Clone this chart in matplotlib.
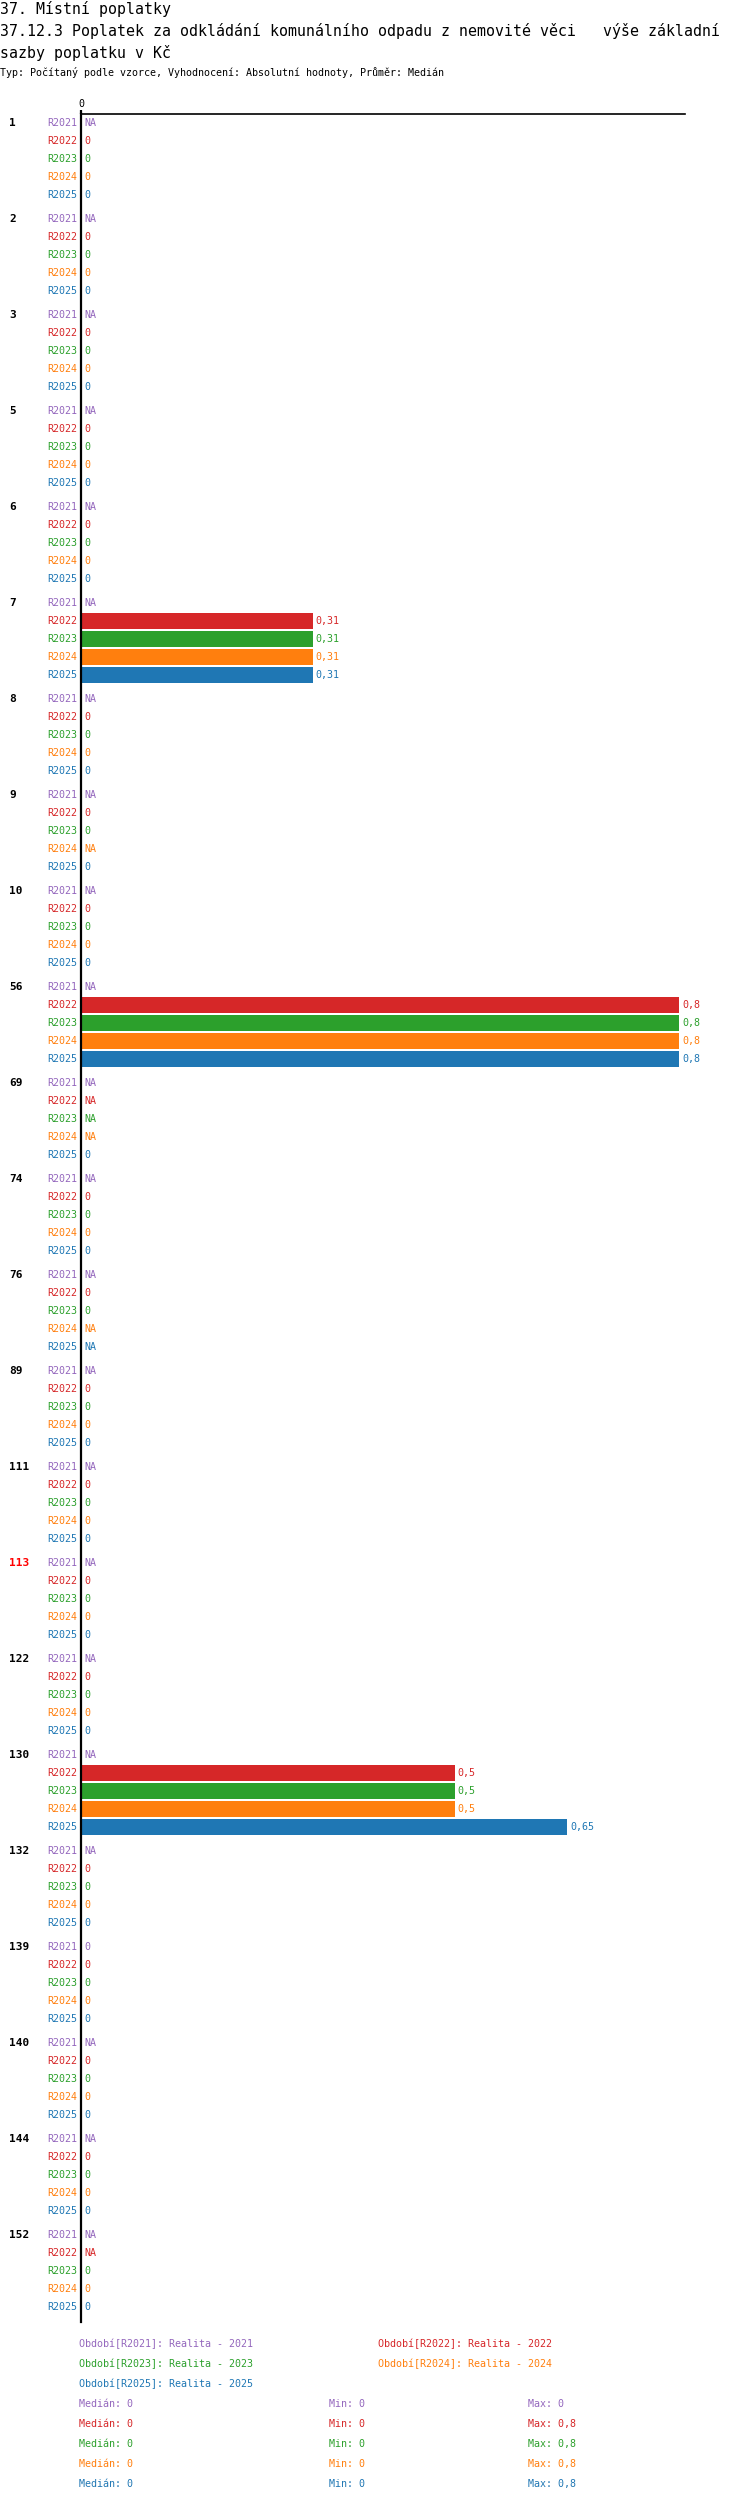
import numpy as np
import matplotlib
matplotlib.use('Agg')
import matplotlib.pyplot as plt
from matplotlib import transforms

plt.rcParams['font.family'] = ['DejaVu Sans Mono']

NA = np.nan
groups = ['1', '2', '3', '5', '6', '7', '8', '9', '10', '56', '69', '74', '76', '89',
          '111', '113', '122', '130', '132', '139', '140', '144', '152']
series = ['R2021', 'R2022', 'R2023', 'R2024', 'R2025']
colors = ['#9467bd', '#d62728', '#2ca02c', '#ff7f0e', '#1f77b4']
r2021 = [NA, NA, NA, NA, NA, NA, NA, NA, NA, NA, NA, NA, NA, NA, NA, NA, NA, NA, NA, 0, NA, NA, NA]
r2022 = [0, 0, 0, 0, 0, 0.31, 0, 0, 0, 0.8, NA, 0, 0, 0, 0, 0, 0, 0.5, 0, 0, 0, 0, NA]
r2023 = [0, 0, 0, 0, 0, 0.31, 0, 0, 0, 0.8, NA, 0, 0, 0, 0, 0, 0, 0.5, 0, 0, 0, 0, 0]
r2024 = [0, 0, 0, 0, 0, 0.31, 0, NA, 0, 0.8, NA, 0, NA, 0, 0, 0, 0, 0.5, 0, 0, 0, 0, 0]
r2025 = [0, 0, 0, 0, 0, 0.31, 0, 0, 0, 0.8, 0, 0, NA, 0, 0, 0, 0, 0.65, 0, 0, 0, 0, 0]
values = [r2021, r2022, r2023, r2024, r2025]
legend_names = ['Realita - 2021', 'Realita - 2022', 'Realita - 2023', 'Realita - 2024', 'Realita - 2025']
highlight = '113'

title1 = '37. Místní poplatky'
title2 = '37.12.3 Poplatek za odkládání komunálního odpadu z nemovité věci   výše základní'
title3 = 'sazby poplatku v Kč'
subtitle = 'Typ: Počítaný podle vzorce, Vyhodnocení: Absolutní hodnoty, Průměr: Medián'

W, H = 750, 2502
fig = plt.figure(figsize=(W / 100, H / 100), dpi=100)

def fx(px):
    return px / W

def fy(py):
    return 1 - py / H

# axes in pixel units (y grows downward)
top, bottom, left, right = 114, 2322, 81, 685
ax = fig.add_axes([fx(left), fy(bottom), fx(right - left), (bottom - top) / H])
ax.set_ylim(bottom, top)
ax.set_xlim(0, 0.8 * 1.01)

fs = 7.2
first, gstep, sstep = 123, 96, 18

for s, name in enumerate(series):
    vals = np.array(values[s], dtype=float)
    ys = first + np.arange(len(groups)) * gstep + s * sstep
    ax.barh(ys, np.nan_to_num(vals), height=16, color=colors[s], linewidth=0)
    for y, v in zip(ys, vals):
        ax.annotate(name, (0, y), xytext=(-3, 0), textcoords='offset points',
                    ha='right', va='center', fontsize=fs, color=colors[s])
        txt = 'NA' if np.isnan(v) else f'{v:g}'.replace('.', ',')
        ax.annotate(txt, (0 if np.isnan(v) else v, y), xytext=(2.2, 0),
                    textcoords='offset points', ha='left', va='center',
                    fontsize=fs, color=colors[s])

trans = transforms.blended_transform_factory(fig.transFigure, ax.transData)
for g, name in enumerate(groups):
    ax.text(fx(9), first + g * gstep, name, transform=trans, ha='left', va='center',
            fontsize=8, fontweight='bold', color='red' if name == highlight else 'black')

for sp in ['right', 'bottom']:
    ax.spines[sp].set_visible(False)
ax.spines['left'].set_linewidth(1.6)
ax.spines['top'].set_linewidth(1.2)
ax.set_yticks([])
ax.xaxis.tick_top()
ax.set_xticks([0])
ax.set_xticklabels(['0'])
ax.tick_params(axis='x', length=3, width=1.6, pad=0.5, labelsize=fs)

fig.text(0, fy(9), title1, fontsize=10.7, va='center', ha='left')
fig.text(0, fy(31), title2, fontsize=10.7, va='center', ha='left')
fig.text(0, fy(53), title3, fontsize=10.7, va='center', ha='left')
fig.text(0, fy(73), subtitle, fontsize=fs, va='center', ha='left')

# legend
leg_pos = [(79, 2344), (378, 2344), (79, 2364), (378, 2364), (79, 2384)]
for s, name in enumerate(series):
    x, y = leg_pos[s]
    fig.text(fx(x), fy(y), f'Období[{name}]: {legend_names[s]}', fontsize=fs,
             color=colors[s], va='center', ha='left')

def fmt(v):
    return f'{v:g}'.replace('.', ',')

for s, name in enumerate(series):
    vals = np.array(values[s], dtype=float)
    y = 2404 + s * 20
    fig.text(fx(79), fy(y), f'Medián: {fmt(np.nanmedian(vals))}', fontsize=fs,
             color=colors[s], va='center', ha='left')
    fig.text(fx(329), fy(y), f'Min: {fmt(np.nanmin(vals))}', fontsize=fs,
             color=colors[s], va='center', ha='left')
    fig.text(fx(528), fy(y), f'Max: {fmt(np.nanmax(vals))}', fontsize=fs,
             color=colors[s], va='center', ha='left')

fig.savefig('out.png', dpi=100)
